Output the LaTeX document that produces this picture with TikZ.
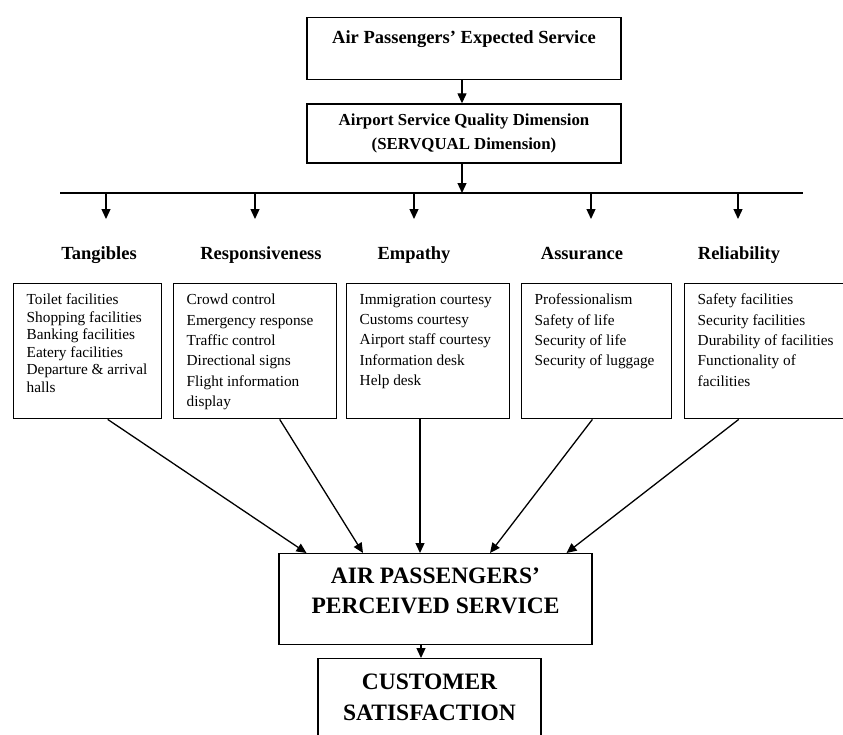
\documentclass[tikz,border=0pt]{standalone}
\usepackage{fontspec}
\setmainfont{Liberation Serif}
\usetikzlibrary{arrows.meta}
\tikzset{
  mainbox/.style = {draw, line width=1.4pt, inner xsep=5pt},
  heading/.style = {anchor=base, font=\fontsize{18.5}{22}\selectfont\bfseries},
  listbox/.style = {draw, line width=1.4pt, anchor=north west,
    inner xsep=13pt, inner ysep=10.5pt},
  arr/.style = {line width=1.3pt, -{Triangle[length=10pt,width=9pt]}}
}
\newcommand{\topbox}[3]{\parbox[c][#1][t]{#2}{#3}}

\begin{document}
\begin{tikzpicture}[x=1pt,y=-1pt]
  \path[use as bounding box, clip] (0,0) rectangle (843,734);
  \fill[white] (0,0) rectangle (843,734);
  %
  \node[mainbox, anchor=north, inner ysep=13.3pt,
    font=\fontsize{18.5}{22}\selectfont\bfseries] (expected) at (464,17)
    {\topbox{35.4pt}{304pt}{\centering Air Passengers’ Expected Service}};
  \node[mainbox, align=center, minimum width=314pt, minimum height=59pt,
    font=\fontsize{16.8}{23.4}\selectfont\bfseries] (dimension) at (464,133.5)
    {Airport Service Quality Dimension\\(SERVQUAL Dimension)};
  \draw[arr] ([xshift=-2pt]expected.south) -- ([xshift=-2pt]dimension.north);
  %
  \coordinate (busL) at (60,193);
  \coordinate (busR) at (803,193);
  \coordinate (hub) at (462,193);
  \draw[line width=1.4pt] (busL) -- (busR);
  \draw[arr] ([xshift=-2pt]dimension.south) -- (hub);
  \foreach \name/\x/\hx/\title in {tang/106/99/Tangibles, resp/255/261/Responsiveness,
      emp/414/414/Empathy, assur/591/582/Assurance, rel/738/739/Reliability} {
    \draw[arr] (hub -| \x,0) -- ++(0,26);
    \node[heading] (\name) at (\hx,259) {\title};
  }
  %
  \node[listbox, font=\fontsize{15.3}{17.5}\selectfont] (tang-list) at (13,283)
    {\topbox{114pt}{122pt}{\raggedright Toilet facilities\\Shopping facilities\\
      Banking facilities\\Eatery facilities\\Departure \& arrival\\halls}};
  \node[listbox, font=\fontsize{15.3}{20.3}\selectfont] (resp-list) at (173,283)
    {\topbox{114pt}{137pt}{\raggedright Crowd control\\Emergency response\\
      Traffic control\\Directional signs\\Flight information\\display}};
  \node[listbox, font=\fontsize{15.3}{20.3}\selectfont] (emp-list) at (346,283)
    {\topbox{114pt}{137pt}{\raggedright Immigration courtesy\\Customs courtesy\\
      Airport staff courtesy\\Information desk\\Help desk}};
  \node[listbox, font=\fontsize{15.3}{20.3}\selectfont] (assur-list) at (521,283)
    {\topbox{114pt}{124pt}{\raggedright Professionalism\\Safety of life\\
      Security of life\\Security of luggage}};
  \node[listbox, font=\fontsize{15.3}{20.3}\selectfont] (rel-list) at (684,283)
    {\topbox{114pt}{140pt}{\raggedright Safety facilities\\Security facilities\\
      Durability of facilities\\Functionality of\\facilities}};
  %
  \node[mainbox, anchor=north, inner ysep=14pt,
    font=\fontsize{23.5}{30}\selectfont\bfseries] (perceived) at (435.5,553)
    {\topbox{63pt}{303pt}{\centering AIR PASSENGERS’\\PERCEIVED SERVICE}};
  \node[mainbox, anchor=north, inner ysep=15pt,
    font=\fontsize{23.5}{31}\selectfont\bfseries] (customer) at (429.5,658)
    {\topbox{90pt}{213pt}{\centering CUSTOMER\\SATISFACTION}};
  %
  \foreach \name/\a/\b in {tang/20/-129, resp/24.5/-72.5, emp/-8.2/-15.5,
      assur/-4.3/54.5, rel/-29/131}
    \draw[arr] ([xshift=\a pt]\name-list.south) -- ([xshift=\b pt]perceived.north);
  \draw[arr] ([xshift=-14.5pt]perceived.south) -- ([xshift=-8.5pt]customer.north);
\end{tikzpicture}
\end{document}
